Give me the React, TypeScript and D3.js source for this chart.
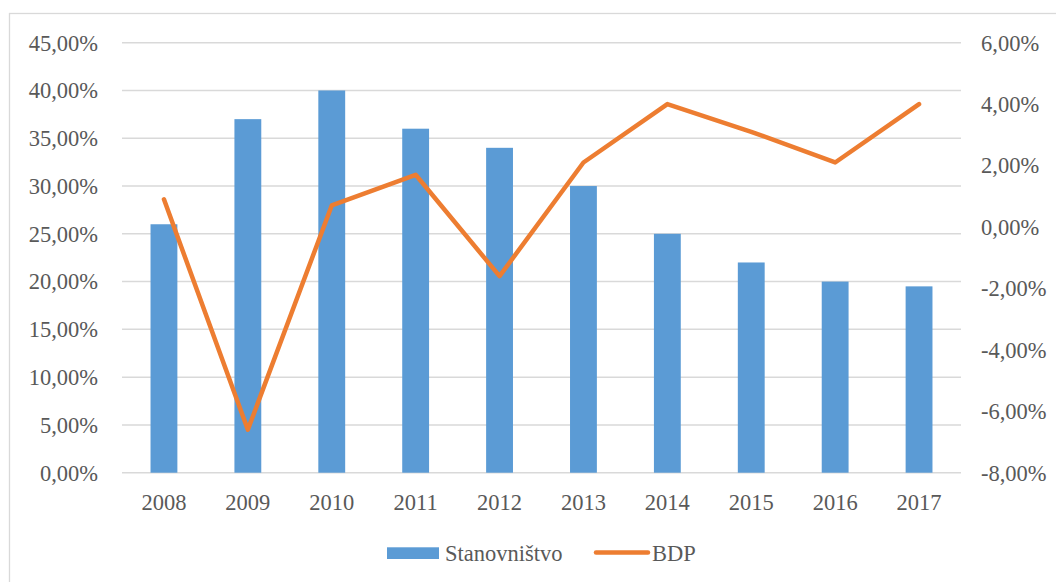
import React from "react";
import * as d3 from "d3";

const years = ["2008", "2009", "2010", "2011", "2012", "2013", "2014", "2015", "2016", "2017"];
const stanovnistvo = [26, 37, 40, 36, 34, 30, 25, 22, 20, 19.5];
const bdp = [0.9, -6.6, 0.7, 1.7, -1.6, 2.1, 4.0, 3.1, 2.1, 4.0];
const leftTicks = [0, 5, 10, 15, 20, 25, 30, 35, 40, 45];
const rightTicks = [-8, -6, -4, -2, 0, 2, 4, 6];

const W = 1056;
const H = 582;
const FONT = "Liberation Serif, Times New Roman, Times, serif";
const TEXT = "#595959";
const FS = 22.5;

export default function App() {
  const left = 122;
  const right = 961;
  const top = 42.7;
  const bottom = 472.7;

  const x = d3.scaleBand<string>().domain(years).range([left, right]).paddingInner(0.68).paddingOuter(0.34);
  const yL = d3.scaleLinear().domain([0, 45]).range([bottom, top]);
  const yR = d3.scaleLinear().domain([-8, 6]).range([bottom, top]);
  const xc = (d: string) => (x(d) as number) + x.bandwidth() / 2;

  const line = d3
    .line<number>()
    .x((_, i) => xc(years[i]))
    .y((d) => yR(d));

  const fmt = (v: number) => v.toFixed(2).replace(".", ",") + "%";
  const ts = { fontFamily: FONT, fontSize: FS } as React.CSSProperties;

  return (
    <svg width={W} height={H} style={{ position: "absolute", left: 0, top: 0, background: "#fff" }}>
      <rect x={9.5} y={13.5} width={1100} height={700} fill="#fff" stroke="#d9d9d9" strokeWidth={1.3} />
      {leftTicks.map((t) => (
        <line key={"g" + t} x1={left} x2={right} y1={yL(t)} y2={yL(t)} stroke="#d9d9d9" strokeWidth={1.5} />
      ))}
      {leftTicks.map((t) => (
        <text key={"l" + t} x={98} y={yL(t)} dy="0.35em" textAnchor="end" style={ts} fill={TEXT}>
          {fmt(t)}
        </text>
      ))}
      {rightTicks.map((t) => (
        <text key={"r" + t} x={981} y={yR(t)} dy="0.35em" textAnchor="start" style={ts} fill={TEXT}>
          {fmt(t)}
        </text>
      ))}
      {years.map((yr, i) => (
        <rect
          key={"b" + yr}
          x={x(yr)}
          y={yL(stanovnistvo[i])}
          width={x.bandwidth()}
          height={bottom - yL(stanovnistvo[i])}
          fill="#5b9bd5"
        />
      ))}
      {years.map((yr) => (
        <text key={"x" + yr} x={xc(yr)} y={502} dy="0.35em" textAnchor="middle" style={ts} fill={TEXT}>
          {yr}
        </text>
      ))}
      <path d={line(bdp) || ""} fill="none" stroke="#ed7d31" strokeWidth={4.5} strokeLinejoin="round" strokeLinecap="round" />
      <g>
        <rect x={387} y={547.3} width={52} height={11.7} fill="#5b9bd5" />
        <text x={445} y={553} dy="0.35em" style={ts} fill={TEXT}>
          Stanovništvo
        </text>
        <line x1={596} x2={648} y1={552.5} y2={552.5} stroke="#ed7d31" strokeWidth={4.5} strokeLinecap="round" />
        <text x={652} y={553} dy="0.35em" style={ts} fill={TEXT}>
          BDP
        </text>
      </g>
    </svg>
  );
}
